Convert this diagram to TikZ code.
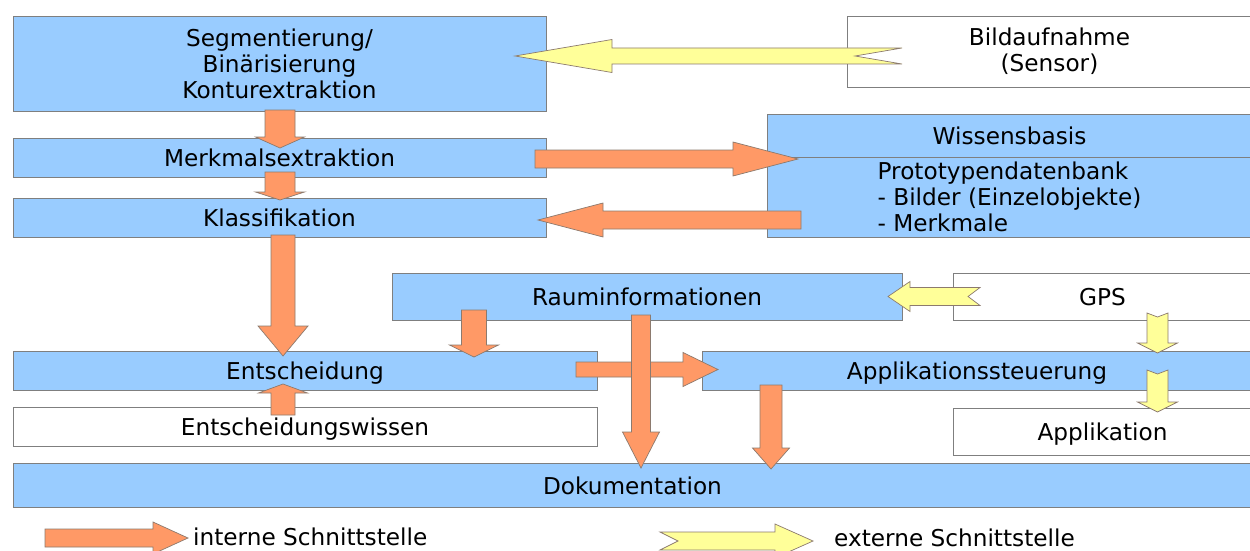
\documentclass[tikz,border=0pt]{standalone}
\usepackage{fontspec}
\setmainfont{DejaVu Sans}
\usetikzlibrary{calc}
\definecolor{boxblue}{HTML}{99CCFF}
\definecolor{arrorange}{HTML}{FF9966}
\definecolor{arryellow}{HTML}{FFFF99}
\definecolor{bordergray}{HTML}{7F7F7F}
\definecolor{arrline}{HTML}{8C7A6E}
% #1 style, #2 tail, #3 tip, #4 shaft half, #5 head half, #6 head length, #7 notch depth
\newcommand{\myblockarrow}[7]{%
  \coordinate (hb) at ($(#3)!#6!(#2)$);
  \coordinate (nt) at ($(#2)!#7!(#3)$);
  \draw[#1] ($(#2)!#4!90:(#3)$) -- ($(hb)!#4!90:(#3)$) -- ($(hb)!#5!90:(#3)$)
    -- (#3) -- ($(hb)!#5!-90:(#3)$) -- ($(hb)!#4!-90:(#3)$) -- ($(#2)!#4!-90:(#3)$)
    -- (nt) -- cycle;
}
\tikzset{
  boxbase/.style={draw=bordergray, line width=0.9pt, inner sep=0pt, anchor=center,
    font=\fontsize{23.2}{26}\selectfont},
  bluebox/.style={boxbase, fill=boxblue},
  whitebox/.style={boxbase, fill=white},
  oneline/.style={text height=18pt, text depth=0pt},
  intarrow/.style={fill=arrorange, draw=arrline, line width=0.7pt, line join=miter},
  extarrow/.style={fill=arryellow, draw=arrline, line width=0.7pt, line join=miter},
  legtext/.style={anchor=west, inner sep=0pt, font=\fontsize{23.2}{26}\selectfont}
}
\begin{document}
\begin{tikzpicture}[x=1pt,y=-1pt]
\useasboundingbox (0,0) rectangle (1250,551);
\fill[white] (0,0) rectangle (1250,551);
% boxes
\node[bluebox, align=center, minimum width=533pt, minimum height=95pt] (seg) at (279.5,63.5)
  {Segmentierung/\\Binärisierung\\Konturextraktion};
\node[whitebox, align=center, minimum width=405pt, minimum height=71pt] (bild) at (1049.5,51.5)
  {Bildaufnahme\\(Sensor)};
\node[bluebox, oneline, minimum width=533pt, minimum height=39pt] (merk) at (279.5,157.5) {Merkmalsextraktion};
\node[bluebox, oneline, minimum width=533pt, minimum height=39pt] (klass) at (279.5,217.5) {Klassifikation};
\node[bluebox, oneline, minimum width=485pt, minimum height=43pt] (wiss) at (1009.5,135.5) {Wissensbasis};
\node[bluebox, minimum width=485pt, minimum height=80pt, align=left] (proto) at (1009.5,197)
  {Prototypendatenbank\\- Bilder (Einzelobjekte)\\- Merkmale};
\node[bluebox, oneline, minimum width=510pt, minimum height=47pt] (raum) at (647,296.5) {Rauminformationen};
\node[whitebox, oneline, minimum width=299pt, minimum height=47pt] (gps) at (1102.5,296.5) {GPS};
\node[bluebox, oneline, minimum width=584pt, minimum height=39pt] (ent) at (305,370.5) {Entscheidung};
\node[bluebox, oneline, minimum width=550pt, minimum height=39pt] (appst) at (977,370.5) {Applikationssteuerung};
\node[whitebox, oneline, minimum width=584pt, minimum height=39pt] (entw) at (305,426.5) {Entscheidungswissen};
\node[whitebox, oneline, minimum width=299pt, minimum height=47pt] (appl) at (1102.5,431.5) {Applikation};
\node[bluebox, oneline, minimum width=1239pt, minimum height=44pt] (doku) at (632.5,485) {Dokumentation};
% arrow end points
\coordinate (y1s) at (902,56);   \coordinate (y1e) at (515,56);
\coordinate (o1s) at (535,159);  \coordinate (o1e) at (798,159);
\coordinate (o2s) at (801,220);  \coordinate (o2e) at (538,220);
\coordinate (o3s) at (280,110);  \coordinate (o3e) at (280,148);
\coordinate (o4s) at (280,172);  \coordinate (o4e) at (280,200);
\coordinate (o5s) at (283,235);  \coordinate (o5e) at (283,356);
\coordinate (o6s) at (283,415);  \coordinate (o6e) at (283,384);
\coordinate (o7s) at (474,310);  \coordinate (o7e) at (474,357);
\coordinate (o9s) at (576,369.5);\coordinate (o9e) at (718,369.5);
\coordinate (o8s) at (641,315);  \coordinate (o8e) at (641,468);
\coordinate (o10s) at (771,385); \coordinate (o10e) at (771,469);
\coordinate (y2s) at (980,296.5);\coordinate (y2e) at (888,296.5);
\coordinate (y3s) at (1157.5,313);\coordinate (y3e) at (1157.5,353);
\coordinate (y4s) at (1157.5,370);\coordinate (y4e) at (1157.5,412);
\coordinate (l1s) at (45,538);   \coordinate (l1e) at (188,538);
\coordinate (l2s) at (660,541);  \coordinate (l2e) at (813,541);
% arrows
\myblockarrow{extarrow}{y1s}{y1e}{8pt}{16.5pt}{97pt}{47pt}
\myblockarrow{intarrow}{o1s}{o1e}{9pt}{17pt}{65pt}{0pt}
\myblockarrow{intarrow}{o2s}{o2e}{9pt}{17pt}{65pt}{0pt}
\myblockarrow{intarrow}{o3s}{o3e}{15pt}{24.5pt}{11pt}{0pt}
\myblockarrow{intarrow}{o4s}{o4e}{15pt}{24.5pt}{8pt}{0pt}
\myblockarrow{intarrow}{o5s}{o5e}{12pt}{25pt}{30pt}{0pt}
\myblockarrow{intarrow}{o6s}{o6e}{12pt}{24.5pt}{9pt}{0pt}
\myblockarrow{intarrow}{o7s}{o7e}{12.5pt}{24.5pt}{12pt}{0pt}
\myblockarrow{intarrow}{o9s}{o9e}{7.5pt}{17pt}{35pt}{0pt}
\myblockarrow{intarrow}{o8s}{o8e}{9.5pt}{18.5pt}{36pt}{0pt}
\myblockarrow{intarrow}{o10s}{o10e}{11pt}{18.5pt}{21pt}{0pt}
\myblockarrow{extarrow}{y2s}{y2e}{9pt}{15pt}{22pt}{12pt}
\myblockarrow{extarrow}{y3s}{y3e}{10.5pt}{20pt}{10pt}{4pt}
\myblockarrow{extarrow}{y4s}{y4e}{10.5pt}{20pt}{10pt}{4pt}
% legend
\myblockarrow{intarrow}{l1s}{l1e}{9pt}{16pt}{35pt}{0pt}
\myblockarrow{extarrow}{l2s}{l2e}{9pt}{17pt}{38pt}{18pt}
\node[legtext] (lint) at (193,537) {interne Schnittstelle};
\node[legtext] (lext) at (834,538) {externe Schnittstelle};
\end{tikzpicture}
\end{document}
